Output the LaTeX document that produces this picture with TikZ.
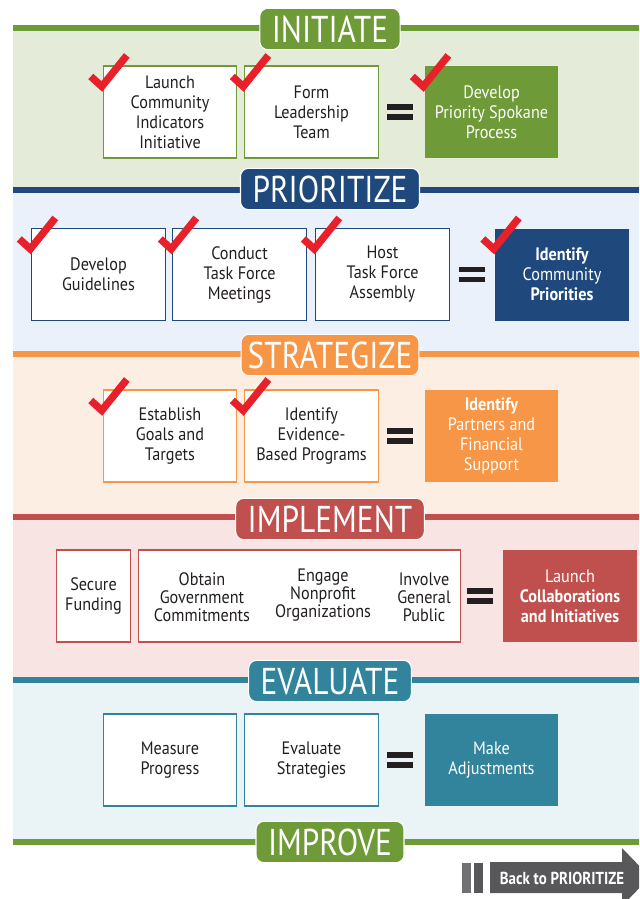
\documentclass[tikz,border=0pt]{standalone}
\usepackage{fontspec}
\setmainfont{PT Sans}
\newfontfamily\hdfont[FakeStretch=0.84]{PT Sans}
\newfontfamily\bxfont[FakeStretch=0.9]{PT Sans}
\newfontfamily\btfont[FakeStretch=0.86]{PT Sans}
\definecolor{cA}{HTML}{6E9A37}
\definecolor{bgA}{HTML}{E4EBD8}
\definecolor{cB}{HTML}{1F497D}
\definecolor{bgB}{HTML}{EAF1FA}
\definecolor{cC}{HTML}{F79646}
\definecolor{bgC}{HTML}{FDEEE3}
\definecolor{cD}{HTML}{C0504D}
\definecolor{bgD}{HTML}{F9E4E4}
\definecolor{cE}{HTML}{31849B}
\definecolor{bgE}{HTML}{EAF4F7}
\definecolor{chkred}{HTML}{E8202A}
\definecolor{txt}{HTML}{231F20}
\definecolor{arrgray}{HTML}{58585A}
\newcommand\eqsign{\textcolor{txt}{\vbox{\hrule width 19pt height 4pt\vskip 3.5pt\hrule width 19pt height 4pt}}}
\tikzset{
  pill/.style={rounded corners=6pt, minimum height=31pt, inner xsep=9pt, inner ysep=0pt,
    text=white, draw=white, line width=0.8pt, font=\hdfont\fontsize{28}{28}\selectfont},
  wbox/.style={draw, fill=white, line width=0.8pt, minimum width=100pt, minimum height=69pt,
    align=center, text=txt, inner sep=2pt, font=\bxfont\fontsize{13.5}{15}\selectfont},
  rbox/.style={wbox, draw=none, text=white},
  itxt/.style={align=center, text=txt, inner sep=0pt, font=\bxfont\fontsize{13.5}{13.5}\selectfont},
  eqs/.style={inner sep=0pt},
  chk/.pic={\draw[chkred, line width=5.5pt, line join=miter] (-12,11) -- (-1,21) -- (24,-10);}
}
\begin{document}
\begin{tikzpicture}[x=0.75pt,y=-0.75pt]
\useasboundingbox (0,0) rectangle (639,899);
\clip (0,0) rectangle (639,899);
% section backgrounds
\fill[bgA] (13,28) rectangle (639,190);
\fill[bgB] (13,190) rectangle (639,354);
\fill[bgC] (13,354) rectangle (639,517);
\fill[bgD] (13,517) rectangle (639,680);
\fill[bgE] (13,680) rectangle (639,842);
% bars
\fill[cA] (13,25) rectangle (639,31);
\fill[cB] (13,187) rectangle (639,193);
\fill[cC] (13,351) rectangle (639,357);
\fill[cD] (13,514) rectangle (639,520);
\fill[cE] (13,677) rectangle (639,683);
\fill[cA] (13,839) rectangle (639,845);
% headers
\node[pill, fill=cA] (hInit) at (330,29) {INITIATE};
\node[pill, fill=cB] (hPrio) at (330,189) {PRIORITIZE};
\node[pill, fill=cC, inner xsep=5pt] (hStra) at (330,355) {STRATEGIZE};
\node[pill, fill=cD] (hImpl) at (330,519) {IMPLEMENT};
\node[pill, fill=cE] (hEval) at (330,681) {EVALUATE};
\node[pill, fill=cA] (hImpr) at (330,842) {IMPROVE};
% INITIATE
\node[wbox, draw=cA] (a1) at (170,112) {Launch\\Community\\Indicators\\Initiative};
\node[wbox, draw=cA] (a2) at (311.5,112) {Form\\Leadership\\Team};
\node[eqs] (aeq) at (400,112) {\eqsign};
\node[rbox, fill=cA] (ar) at (491.5,112) {Develop\\Priority Spokane\\Process};
% PRIORITIZE
\node[wbox, draw=cB] (b1) at (98.5,274.5) {Develop\\Guidelines};
\node[wbox, draw=cB] (b2) at (239.5,274.5) {Conduct\\Task Force\\Meetings};
\node[wbox, draw=cB] (b3) at (382.5,274.5) {Host\\Task Force\\Assembly};
\node[eqs] (beq) at (472,274.5) {\eqsign};
\node[rbox, fill=cB] (br) at (562,274.5) {\textbf{Identify}\\Community\\\textbf{Priorities}};
% STRATEGIZE
\node[wbox, draw=cC] (c1) at (170,436) {Establish\\Goals and\\Targets};
\node[wbox, draw=cC] (c2) at (311.5,436) {Identify\\Evidence-\\Based Programs};
\node[eqs] (ceq) at (400,436) {\eqsign};
\node[rbox, fill=cC] (cr) at (491.5,436) {\textbf{Identify}\\Partners and\\Financial\\Support};
% IMPLEMENT
\node[wbox, draw=cD, minimum width=55pt] (d1) at (93.5,596) {Secure\\Funding};
\node[wbox, draw=cD, minimum width=241pt] (d2) at (299.5,596) {};
\node[itxt] (d2a) at (202,597) {Obtain\\Government\\Commitments};
\node[itxt] (d2b) at (323,595) {Engage\\Nonprofit\\Organizations};
\node[itxt] (d2c) at (424,597) {Involve\\General\\Public};
\node[eqs] (deq) at (480,596) {\eqsign};
\node[rbox, fill=cD] (dr) at (570,596) {Launch\\\textbf{Collaborations}\\\textbf{and Initiatives}};
% EVALUATE
\node[wbox, draw=cE] (e1) at (170,760) {Measure\\Progress};
\node[wbox, draw=cE] (e2) at (311.5,760) {Evaluate\\Strategies};
\node[eqs] (eeq) at (400,760) {\eqsign};
\node[rbox, fill=cE] (er) at (491.5,760) {Make\\Adjustments};
% check marks
\foreach \n in {a1,a2,ar,b1,b2,b3,br,c1,c2}{\pic at (\n.north west) {chk};}
% back arrow
\fill[arrgray!85] (462,863) rectangle (471,893);
\fill[arrgray] (474,863) rectangle (483,893);
\fill[arrgray] (490,862) -- (622,862) -- (622,848) -- (650,877) -- (622,906) -- (622,893) -- (490,893) -- cycle;
\node[text=white, font=\btfont\bfseries\fontsize{13}{13}\selectfont, inner sep=0pt] (back) at (562,878) {Back to PRIORITIZE};
\end{tikzpicture}
\end{document}
